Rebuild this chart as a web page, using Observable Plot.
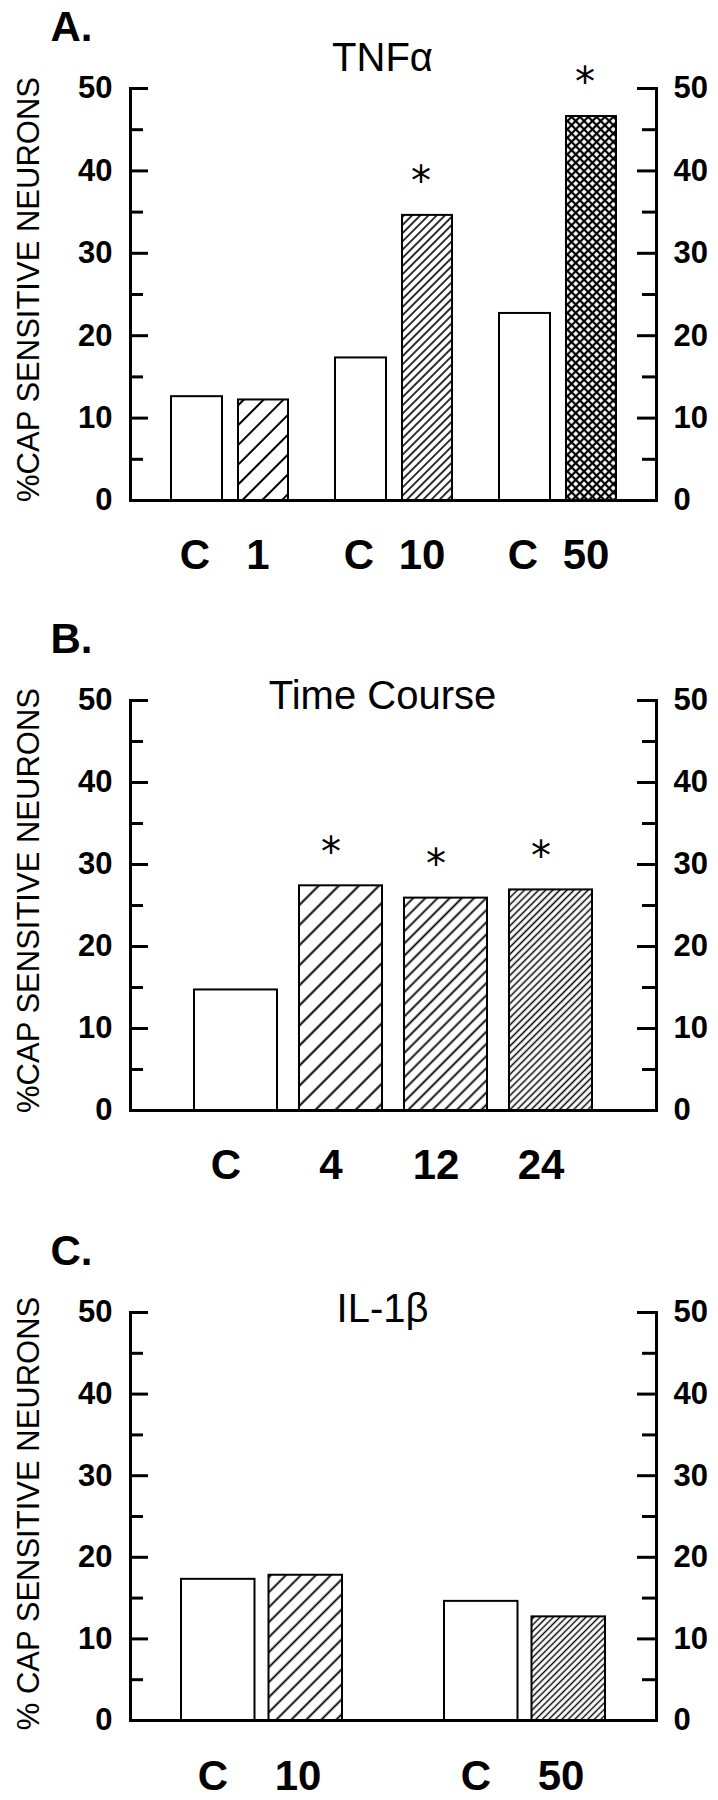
<!DOCTYPE html>
<html>
<head>
<meta charset="utf-8">
<script src="https://cdn.jsdelivr.net/npm/d3@7"></script>
<script src="https://cdn.jsdelivr.net/npm/@observablehq/plot@0.6"></script>
<style>
  html, body { margin: 0; padding: 0; background: #fff; }
  #chart svg { display: block; }
</style>
</head>
<body>
<div id="chart"></div>
<script>
// ---------- DATA ----------
// Panel A: TNFα dose (control vs treated)
const groupsA = ["1", "10", "50"];
const controlA = [12.6, 17.3, 22.7];
const tnfA = [12.2, 34.6, 46.6];
const sigA = [false, true, true];

// Panel B: Time course
const groupsB = ["C", "4", "12", "24"];
const valuesB = [14.7, 27.4, 25.9, 26.9];
const sigB = [false, true, true, true];

// Panel C: IL-1β dose (control vs treated)
const groupsC = ["10", "50"];
const controlC = [17.3, 14.6];
const ilC = [17.8, 12.7];

// Axis ticks and texts
const yTicks = [0, 10, 20, 30, 40, 50];
const yMinor = [5, 15, 25, 35, 45];
const yTitleAB = "%CAP SENSITIVE NEURONS";
const yTitleC = "% CAP SENSITIVE NEURONS";
const titles = ["TNFα", "Time Course", "IL-1β"];
const letters = ["A.", "B.", "C."];
const controlLabel = "C";

// ---------- STYLES ----------
const patternStyles = {
  hA1:  {p: 14.0, w: 2.0},
  hA10: {p: 5.8,  w: 1.6},
  xA50: {p: 5.9,  w: 2.2, cross: true},
  hB4:  {p: 14.2, w: 2.0},
  hB12: {p: 8.6,  w: 1.8},
  hB24: {p: 5.0,  w: 1.5},
  hC10: {p: 10.6, w: 1.8},
  hC50: {p: 4.6,  w: 1.4}
};
const fillA = ["hA1", "hA10", "xA50"];
const fillB = [null, "hB4", "hB12", "hB24"];
const fillC = ["hC10", "hC50"];

const FONT = "'Liberation Sans', Arial, Helvetica, sans-serif";

function addPatterns(svg, ids) {
  const ns = "http://www.w3.org/2000/svg";
  const defs = document.createElementNS(ns, "defs");
  for (const id of ids) {
    if (!id) continue;
    const s = patternStyles[id];
    const pat = document.createElementNS(ns, "pattern");
    pat.setAttribute("id", id);
    pat.setAttribute("patternUnits", "userSpaceOnUse");
    pat.setAttribute("width", s.p);
    pat.setAttribute("height", s.p);
    pat.setAttribute("patternTransform", "rotate(45)");
    const bg = document.createElementNS(ns, "rect");
    bg.setAttribute("width", s.p); bg.setAttribute("height", s.p); bg.setAttribute("fill", "white");
    pat.appendChild(bg);
    const l = document.createElementNS(ns, "line");
    l.setAttribute("x1", s.p / 2); l.setAttribute("x2", s.p / 2);
    l.setAttribute("y1", -1); l.setAttribute("y2", s.p + 1);
    l.setAttribute("stroke", "black"); l.setAttribute("stroke-width", s.w);
    pat.appendChild(l);
    if (s.cross) {
      const h = document.createElementNS(ns, "line");
      h.setAttribute("y1", s.p / 2); h.setAttribute("y2", s.p / 2);
      h.setAttribute("x1", -1); h.setAttribute("x2", s.p + 1);
      h.setAttribute("stroke", "black"); h.setAttribute("stroke-width", s.w);
      pat.appendChild(h);
    }
    defs.appendChild(pat);
  }
  svg.insertBefore(defs, svg.firstChild);
}

function frameMarks(letter, title, titleDy, yTitle, yTitleDy) {
  return [
    Plot.frame({anchor: "left", strokeWidth: 3}),
    Plot.frame({anchor: "right", strokeWidth: 3}),
    Plot.ruleY([0], {strokeWidth: 3}),
    Plot.axisY({anchor: "left", ticks: yTicks, tickSize: 18, dx: 18, fill: "none", strokeWidth: 3, label: null}),
    Plot.axisY({anchor: "left", ticks: yMinor, tickSize: 13, dx: 13, fill: "none", strokeWidth: 3, label: null}),
    Plot.axisY({anchor: "right", ticks: yTicks, tickSize: 20, dx: -20, fill: "none", strokeWidth: 3, label: null}),
    Plot.axisY({anchor: "right", ticks: yMinor, tickSize: 15, dx: -15, fill: "none", strokeWidth: 3, label: null}),
    Plot.axisY({anchor: "left", ticks: yTicks, tickSize: 0, tickPadding: 18, fontSize: 31, fontWeight: "bold", label: null}),
    Plot.axisY({anchor: "right", ticks: yTicks, tickSize: 0, tickPadding: 17, fontSize: 31, fontWeight: "bold", label: null}),
    Plot.text([letter], {text: d => d, frameAnchor: "top-left", dx: -80, dy: -61, fontSize: 42, fontWeight: "bold", textAnchor: "start", lineAnchor: "middle"}),
    Plot.text([title], {text: d => d, frameAnchor: "top", dx: -11, dy: titleDy, fontSize: 40, textAnchor: "middle", lineAnchor: "middle"}),
    Plot.text([yTitle], {text: d => d, frameAnchor: "left", dx: -101, dy: yTitleDy, rotate: -90, fontSize: 31, textAnchor: "middle", lineAnchor: "middle"})
  ];
}

const common = {
  width: 718, marginTop: 88, marginLeft: 130, marginRight: 62,
  style: {fontFamily: FONT, background: "white", color: "black", overflow: "visible"},
  y: {domain: [0, 50]},
  color: {type: "identity"}
};

const bold = {fontSize: 42, fontWeight: "bold", textAnchor: "middle", lineAnchor: "middle", frameAnchor: "bottom"};
const star = {text: () => "*", fontFamily: "'DejaVu Sans', sans-serif", fontSize: 40, textAnchor: "middle", lineAnchor: "middle"};

// ---------- PANEL A ----------
const rowsA = groupsA.map((g, i) => ({group: g, control: controlA[i], treated: tnfA[i], sig: sigA[i]}));
const svgA = Plot.plot({
  ...common, height: 612, marginBottom: 112,
  x: {type: "band", domain: groupsA, paddingInner: 0.287, paddingOuter: 0.244, axis: null},
  marks: [
    Plot.barY(rowsA, {x: "group", y: "control", insetRight: 66, fill: "white", stroke: "black", strokeWidth: 2}),
    Plot.barY(rowsA, {x: "group", y: "treated", insetLeft: 67, fill: (d, i) => `url(#${fillA[i]})`, stroke: "black", strokeWidth: 2}),
    Plot.text(rowsA.filter(d => d.sig), {x: "group", y: "treated", dx: 27, dy: -33, ...star}),
    Plot.text(rowsA, {x: "group", text: () => controlLabel, dx: -35, dy: 55, ...bold}),
    Plot.text(rowsA, {x: "group", text: "group", dx: 28, dy: 55, ...bold}),
    ...frameMarks(letters[0], titles[0], -30, yTitleAB, -5)
  ]
});
addPatterns(svgA, fillA);

// ---------- PANEL B ----------
const rowsB = groupsB.map((g, i) => ({group: g, value: valuesB[i], sig: sigB[i]}));
const svgB = Plot.plot({
  ...common, height: 612, marginBottom: 114,
  x: {type: "band", domain: groupsB, paddingInner: 0.21, paddingOuter: 0.6, axis: null},
  marks: [
    Plot.barY(rowsB, {x: "group", y: "value", fill: (d, i) => fillB[i] ? `url(#${fillB[i]})` : "white", stroke: "black", strokeWidth: 2}),
    Plot.text(rowsB.filter(d => d.sig), {x: "group", y: "value", dx: -10, dy: -33, ...star}),
    Plot.text(rowsB, {x: "group", text: "group", dx: -10, dy: 55, ...bold}),
    ...frameMarks(letters[1], titles[1], -4, yTitleAB, -5)
  ]
});
addPatterns(svgB, fillB);

// ---------- PANEL C ----------
const rowsC = groupsC.map((g, i) => ({group: g, control: controlC[i], treated: ilC[i]}));
const svgC = Plot.plot({
  ...common, height: 576, marginBottom: 80,
  x: {type: "band", domain: groupsC, paddingInner: 0.386, paddingOuter: 0.193, axis: null},
  marks: [
    Plot.barY(rowsC, {x: "group", y: "control", insetRight: 87.5, fill: "white", stroke: "black", strokeWidth: 2}),
    Plot.barY(rowsC, {x: "group", y: "treated", insetLeft: 87.5, fill: (d, i) => `url(#${fillC[i]})`, stroke: "black", strokeWidth: 2}),
    Plot.text(rowsC, {x: "group", text: () => controlLabel, dx: -49, dy: 56, ...bold}),
    Plot.text(rowsC, {x: "group", text: "group", dx: 36, dy: 56, ...bold}),
    ...frameMarks(letters[2], titles[2], -3, yTitleC, -3)
  ]
});
addPatterns(svgC, fillC);

const chart = document.getElementById("chart");
chart.append(svgA, svgB, svgC);
</script>
</body>
</html>
